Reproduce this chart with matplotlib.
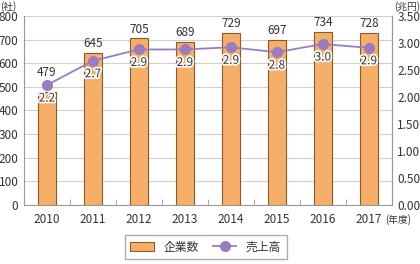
import matplotlib.pyplot as plt
import matplotlib.patheffects as pe
import numpy as np

plt.rcParams['font.family'] = ['Noto Sans CJK JP', 'DejaVu Sans']

years = ['2010', '2011', '2012', '2013', '2014', '2015', '2016', '2017']
companies = [479, 645, 705, 689, 729, 697, 734, 728]
sales = [2.22, 2.67, 2.88, 2.88, 2.92, 2.83, 2.98, 2.91]
sales_labels = ['2.2', '2.7', '2.9', '2.9', '2.9', '2.8', '3.0', '2.9']

txt = '#333333'
fig = plt.figure(figsize=(4.2, 2.64), dpi=100)
ax = fig.add_axes([0.057, 0.2235, 0.876, 0.716])
x = np.arange(len(years))

ax.bar(x, companies, width=0.4, color='#F7AE68', edgecolor='#8B5A2B', linewidth=0.8,
       label='企業数', zorder=2)
# value labels sit above the bar, or above the marker when that is higher
for xi, v, s in zip(x, companies, sales):
    top = max(v, s / 3.5 * 800 + 12)
    ax.text(xi, top + 12, str(v), ha='center', va='bottom', fontsize=8.5, color=txt)

ax.set_ylim(0, 800)
ax.set_yticks(range(0, 801, 100))
ax.set_xlim(-0.5, len(years) - 0.5)
ax.set_xticks(x)
ax.set_xticklabels(years)
ax.set_xticks(np.arange(0.5, len(years) - 1, 1), minor=True)
ax.tick_params(axis='x', which='major', length=0, colors=txt, labelsize=8.5, pad=6)
ax.tick_params(axis='x', which='minor', direction='in', length=4, color='#999999')
ax.tick_params(axis='y', length=0, colors=txt, labelsize=8.5, pad=4)
ax.grid(axis='y', color='#D0D0D0', linewidth=0.8, zorder=0)
ax.set_axisbelow(True)
ax.spines['top'].set_visible(False)
for s in ['left', 'right', 'bottom']:
    ax.spines[s].set_color('#999999')

ax2 = ax.twinx()
ax2.set_ylim(0, 3.5)
ax2.set_yticks(np.arange(0, 3.51, 0.5))
ax2.set_yticklabels(['%.2f' % v for v in np.arange(0, 3.51, 0.5)])
ax2.tick_params(axis='y', length=0, colors=txt, labelsize=8.5, pad=4)
for s in ['top', 'left', 'bottom']:
    ax2.spines[s].set_visible(False)
ax2.spines['right'].set_color('#999999')
ax2.plot(x, sales, color='#9A7CC0', linewidth=1.3, marker='o', markersize=7,
         label='売上高', zorder=3)
for xi, v, lab in zip(x, sales, sales_labels):
    ax2.text(xi, v - 0.12, lab, ha='center', va='top', fontsize=8.5, color=txt,
             path_effects=[pe.withStroke(linewidth=2.5, foreground='white')])

fig.text(0.0, 0.975, '(社)', fontsize=7, color=txt, ha='left', va='center')
fig.text(1.0, 0.975, '(兆円)', fontsize=7, color=txt, ha='right', va='center')
fig.text(0.916, 0.168, '(年度)', fontsize=7, color=txt, ha='left', va='center')

h1, l1 = ax.get_legend_handles_labels()
h2, l2 = ax2.get_legend_handles_labels()
leg = fig.legend(h1 + h2, l1 + l2, loc='lower center', bbox_to_anchor=(0.49, -0.005),
                 ncol=2, fontsize=8.5, frameon=True, fancybox=False, edgecolor='#999999',
                 handlelength=2.0, columnspacing=1.2, borderpad=0.5)
for t in leg.get_texts():
    t.set_color(txt)

fig.savefig('out.png', dpi=100)
